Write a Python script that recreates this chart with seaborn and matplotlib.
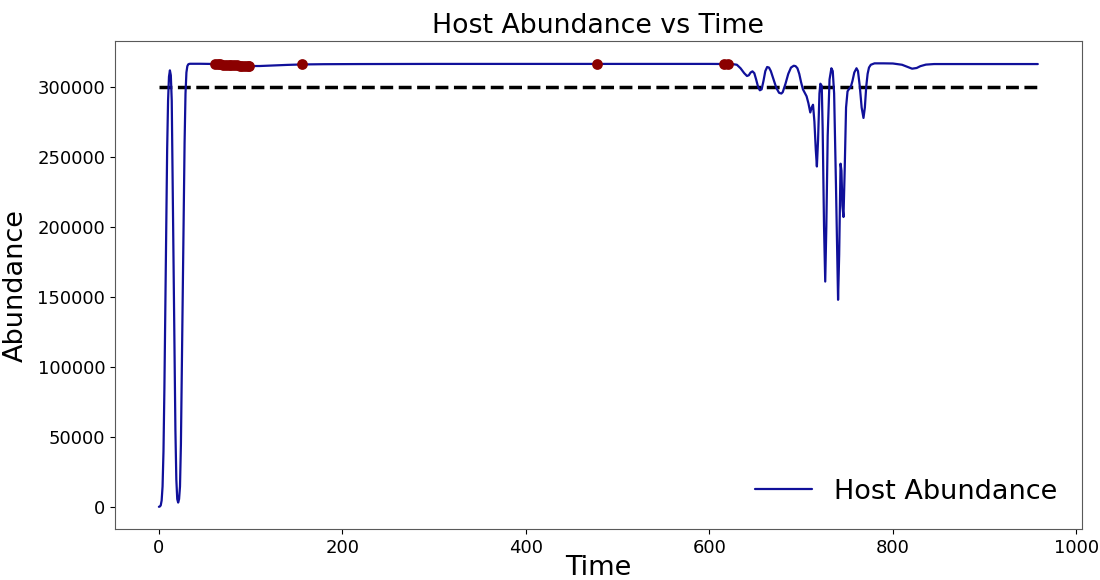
import numpy as np
import pandas as pd
import matplotlib
matplotlib.use("Agg")
import matplotlib.pyplot as plt
import seaborn as sns

# Host population trajectory (time, abundance) by phase
outbreak_time = [0, 1, 2, 3, 4, 5, 6, 7, 8, 9, 10, 11, 12, 13, 14, 15, 16, 17,
                 18, 19, 20, 21, 22, 23, 24, 25, 26, 27, 28, 29, 30, 31, 32, 33]
outbreak_host = [500, 700, 1500, 5000, 15000, 40000, 85000, 140000, 200000,
                 255000, 290000, 307000, 311500, 308000, 290000, 230000,
                 165000, 105000, 55000, 20000, 6000, 3500, 6000, 15000,
                 45000, 100000, 150000, 210000, 260000, 295000, 310000,
                 314500, 315800, 316100]

plateau_time = [34, 45, 55, 62, 70, 80, 90, 98, 110, 125, 140, 155, 180, 220,
                300, 400, 500, 600, 618, 625]
plateau_host = [316200, 316200, 316100, 315900, 315600, 315200, 314800,
                314600, 314600, 315000, 315400, 315700, 315900, 316000,
                316100, 316100, 316100, 316100, 316000, 316000]

unrest_time = [630, 634, 638, 641, 643, 645, 647, 649, 651, 653, 655, 657, 659,
               661, 663, 665, 667, 670, 673, 676, 678.5, 680, 683, 686, 689,
               692, 694, 696, 698, 700, 702, 704, 706, 708, 710, 711.5, 713,
               714.5, 716, 717.2, 718.5, 720, 721, 722.5, 723.5, 725, 726.3,
               727.5, 729, 731, 733, 734.5, 736, 738, 740.3, 741.5, 743, 744,
               745, 746.2, 747.5, 749, 750.6, 752, 754.3, 756, 758, 760.4,
               762, 764, 766, 768, 769.5, 771, 772.5, 774, 776, 780, 790,
               800, 810, 816, 821, 826, 830, 836, 845, 900, 958]
unrest_host = [315500, 313000, 309500, 307500, 308000, 310000, 310800, 309500,
               305000, 300000, 297300, 298000, 304000, 311000, 313900, 313500,
               311000, 305000, 299000, 295500, 295000, 296000, 302000, 309000,
               313500, 314800, 314500, 313000, 309000, 303000, 298000, 295500,
               293000, 288000, 281500, 285000, 287000, 275000, 255000, 243000,
               262000, 295000, 302000, 300500, 270000, 200000, 161000, 200000,
               265000, 305000, 313000, 311000, 295000, 230000, 148000, 180000,
               245000, 240000, 215000, 207000, 240000, 285000, 296500, 298000,
               300000, 304000, 310000, 313000, 311000, 300000, 285000, 277600,
               285000, 300000, 309000, 313500, 315500, 316500, 316500, 316400,
               315500, 314000, 312700, 313200, 314500, 315600, 316000, 316000,
               316000]

# Times of flagged events, shown as markers on the host curve
event_times = [61, 64, 67, 70, 73, 76, 79, 82, 85, 88, 91, 94, 97, 98,
               155.5, 477, 616, 620]

threshold = 300000

time = np.array(outbreak_time + plateau_time + unrest_time, dtype=float)
host = np.array(outbreak_host + plateau_host + unrest_host, dtype=float)
df = pd.DataFrame({"Time": time, "Abundance": host})
events = pd.DataFrame({"Time": event_times,
                       "Abundance": np.interp(event_times, time, host)})

sns.set_style("ticks", {"text.color": "black", "xtick.color": "black",
                        "ytick.color": "black", "axes.labelcolor": "black"})
plt.rcParams["font.family"] = ["DejaVu Sans"]

fig, ax = plt.subplots(figsize=(11, 5.8), dpi=100)
fig.subplots_adjust(left=0.1045, right=0.9834, top=0.929, bottom=0.088)

sns.lineplot(data=df, x="Time", y="Abundance", ax=ax, color="#10109a",
             linewidth=1.6, label="Host Abundance", zorder=2)
ax.hlines(threshold, time[0], time[-1], colors="black", linestyles="--",
          linewidth=2.5, zorder=1)
sns.scatterplot(data=events, x="Time", y="Abundance", ax=ax, color="darkred",
                s=60, edgecolor="darkred", linewidth=0, zorder=3, legend=False)

ax.set_title("Host Abundance vs Time", fontsize=19.3, color="black")
ax.set_xlabel("Time", fontsize=19.5, labelpad=-1)
ax.set_ylabel("Abundance", fontsize=19.5, labelpad=6)
ax.tick_params(labelsize=13, colors="black")
ax.set_xticks([0, 200, 400, 600, 800, 1000])
for s in ax.spines.values():
    s.set_visible(True)
    s.set_color("0.35")
ax.legend(loc="lower right", fontsize=19.5, frameon=False, handlelength=2.1,
          bbox_to_anchor=(1.0, 0.0))

fig.savefig("out.png", dpi=100)
